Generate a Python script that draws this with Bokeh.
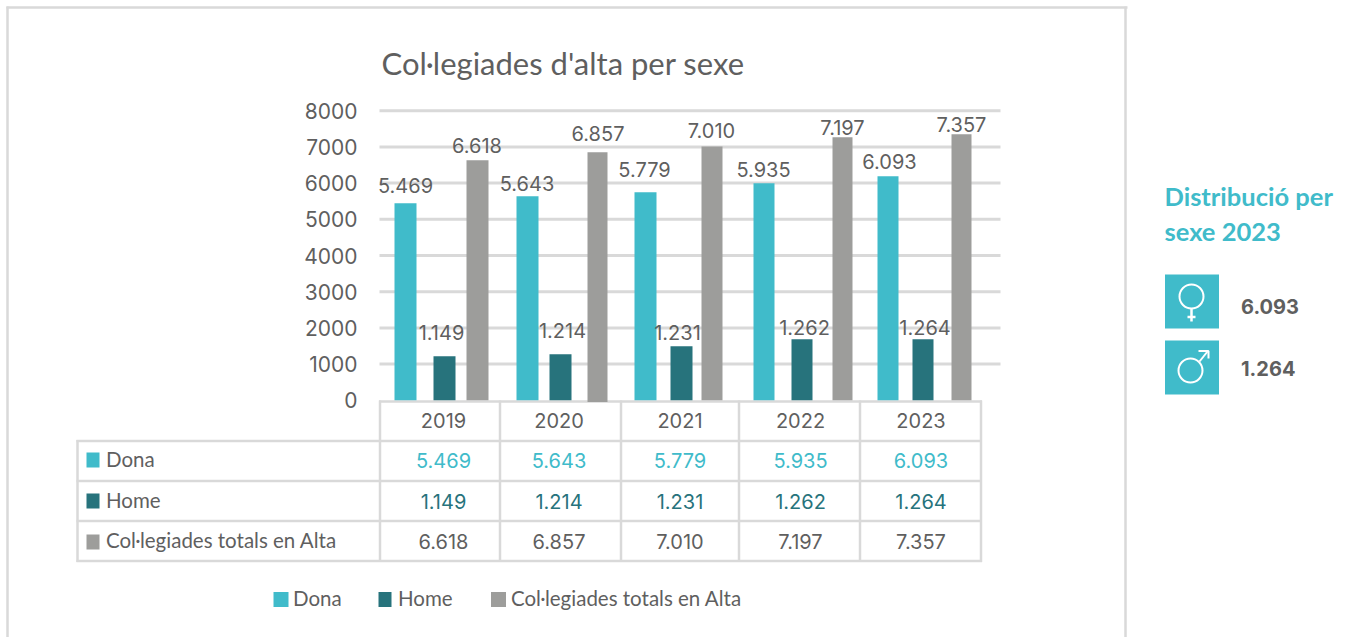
from bokeh.plotting import figure
from bokeh.models import Range1d, LinearAxis, FixedTicker, NumeralTickFormatter
from bokeh.core.properties import value
from bokeh.embed import file_html
from bokeh.resources import INLINE

# ---------- data ----------
years = [2019, 2020, 2021, 2022, 2023]
dona_labels = ["5.469", "5.643", "5.779", "5.935", "6.093"]
home_labels = ["1.149", "1.214", "1.231", "1.262", "1.264"]
total_labels = ["6.618", "6.857", "7.010", "7.197", "7.357"]
# bar heights as drawn in the picture
dona_bars = [5442, 5635, 5746, 5994, 6188]
home_bars = [1215, 1270, 1492, 1685, 1685]
total_bars = [6630, 6851, 7010, 7265, 7348]
total_base = [0, -50, 0, 0, 0]
y_ticks = [0, 1000, 2000, 3000, 4000, 5000, 6000, 7000, 8000]
series_names = ["Dona", "Home", "Col·legiades totals en Alta"]
side_values = ["6.093", "1.264"]

# ---------- style / layout ----------
W, H = 1349, 637
TEAL, DARK, GRAY, TXT, LINE = "#40bbca", "#27737c", "#9d9d9b", "#5f5f5f", "#d9d9d9"
NUM = value("Inter")
WORD = value("Lato")
PX_PER_UNIT = 0.0362
Y0 = 399.8
YEAR_PX = 120.0
YEAR_X0 = 440.0

def yr(px):
    return 2019 + (px - YEAR_X0) / YEAR_PX

p = figure(width=W, height=H, output_backend="svg", toolbar_location=None,
           x_axis_location=None, y_axis_location=None,
           x_range=Range1d(yr(0), yr(W)),
           y_range=Range1d((Y0 - H) / PX_PER_UNIT, Y0 / PX_PER_UNIT),
           min_border=0, min_border_left=0, min_border_right=0,
           min_border_top=0, min_border_bottom=0, outline_line_color=None)
p.xgrid.visible = False
p.ygrid.visible = False
p.extra_x_ranges["px"] = Range1d(0, W)
p.extra_y_ranges["px"] = Range1d(H, 0)
PX = dict(x_range_name="px", y_range_name="px")

def hline(x0, x1, y, color=LINE, w=2.5):
    p.segment([x0], [y], [x1], [y], line_color=color, line_width=w, **PX)

def vline(x, y0, y1, color=LINE, w=2.5):
    p.segment([x], [y0], [x], [y1], line_color=color, line_width=w, **PX)

def text(x, y, t, size, color=TXT, font=NUM, align="center", style="normal"):
    p.text([x], [y], text=[t], text_font=font, text_font_size=f"{size}px",
           text_color=color, text_align=align, text_baseline="middle",
           text_font_style=style, **PX)

# outer frame
hline(6, 1127, 7)
vline(7, 6, H)
vline(1125, 6, H)

# grid from the data ticks (the zero line is the top of the table)
grid_ticks = y_ticks[1:]
p.segment([yr(379)] * len(grid_ticks), grid_ticks, [yr(1000)] * len(grid_ticks), grid_ticks,
          line_color=LINE, line_width=3)
# y axis
ax = LinearAxis(ticker=FixedTicker(ticks=y_ticks), fixed_location=yr(367),
                formatter=NumeralTickFormatter(format="0"),
                axis_line_color=None, major_tick_line_color=None,
                minor_tick_line_color=None, major_label_standoff=4,
                major_label_text_font="Inter", major_label_text_font_size="21px",
                major_label_text_color=TXT)
p.add_layout(ax, "left")

# table
cols = [379.5, 499.5, 620.5, 738.5, 859.5, 980.5]
rows = [440.5, 480.5, 520.5, 560.5]
hline(378.5, 981.5, 401)
for r in rows:
    hline(76, 981.5, r)
vline(77, 439.5, 561.5)
for c in cols:
    vline(c, 400, 561.5)

# bars
dona_x = [405, 527, 645, 763.5, 887.5]
home_x = [444, 560, 681, 801.5, 922.5]
total_x = [477, 597, 711.5, 842, 961]
dona_w = [22, 22, 22, 21, 21]
home_w = [22, 22, 22, 21, 21]
total_w = [22, 20, 21, 20, 20]
to_year = lambda xs: [yr(v) for v in xs]
to_width = lambda ws: [v / YEAR_PX for v in ws]
p.vbar(x=to_year(dona_x), width=to_width(dona_w), bottom=0, top=dona_bars, fill_color=TEAL, line_color=None)
p.vbar(x=to_year(home_x), width=to_width(home_w), bottom=0, top=home_bars, fill_color=DARK, line_color=None)
p.vbar(x=to_year(total_x), width=to_width(total_w), bottom=total_base, top=total_bars, fill_color=GRAY, line_color=None)

# value labels above the bars
dona_lab = [(405, 184.5), (526.5, 182.5), (644, 168.5), (763, 168.5), (889, 160.5)]
home_lab = [(441, 331.5), (562, 329.5), (677, 331.5), (804, 326.5), (924.5, 326.5)]
total_lab = [(476.5, 144.5), (597.5, 132.5), (711, 129.5), (842, 126.5), (961, 123.5)]
for labs, pos in ((dona_labels, dona_lab), (home_labels, home_lab), (total_labels, total_lab)):
    for t, (x, y) in zip(labs, pos):
        text(x, y, t, 20)

# table text
cx = [443, 558.5, 679.5, 800, 920.5]
for x, yv in zip(cx, years):
    text(x, 419.5, str(yv), 20)
for x, a, b, c in zip(cx, dona_labels, home_labels, total_labels):
    text(x, 459.5, a, 20, TEAL)
    text(x, 500.5, b, 20, DARK)
    text(x, 540.5, c, 20)
colors = [TEAL, DARK, GRAY]
for name, col, y, ty in zip(series_names, colors, [459.5, 500.5, 541.5], [458.5, 499, 539.5]):
    p.quad(left=[86], right=[99], top=[y - 7.5], bottom=[y + 7.5], fill_color=col, line_color=None, **PX)
    text(105.5, ty, name, 20.5, font=WORD, align="left")

# legend
for name, col, sx, sw, tx in zip(series_names, colors, [273, 378, 490.5], [15, 13, 15], [292.5, 397.5, 510.5]):
    p.quad(left=[sx], right=[sx + sw], top=[591.5], bottom=[606.5], fill_color=col, line_color=None, **PX)
    text(tx, 597.5, name, 20.5, font=WORD, align="left")

# title
text(381, 62.5, "Col·legiades d'alta per sexe", 31, font=WORD, align="left")

# side panel
text(1164, 195.5, "Distribució per", 25.5, TEAL, WORD, "left", "bold")
text(1164, 230.5, "sexe 2023", 25.5, TEAL, WORD, "left", "bold")
p.quad(left=[1164.5, 1164.5], right=[1218.5, 1218.5], top=[274, 340], bottom=[328, 394], fill_color=TEAL, line_color=None, **PX)
p.circle([1191], [296], radius=12, fill_color=None, line_color="white", line_width=2, **PX)
p.multi_line([[1191, 1191], [1187, 1195]], [[308, 321], [316.5, 316.5]], line_color="white", line_width=2.5, **PX)
p.circle([1190], [370], radius=12, fill_color=None, line_color="white", line_width=2, **PX)
p.multi_line([[1199, 1207], [1198, 1208, 1208]], [[361, 351], [350.5, 350.5, 358]], line_color="white", line_width=2, **PX)
text(1240.5, 305.5, side_values[0], 20, font=NUM, align="left", style="bold")
text(1240.5, 367.5, side_values[1], 20, font=NUM, align="left", style="bold")

open("out.html", "w").write(file_html(p, INLINE))
